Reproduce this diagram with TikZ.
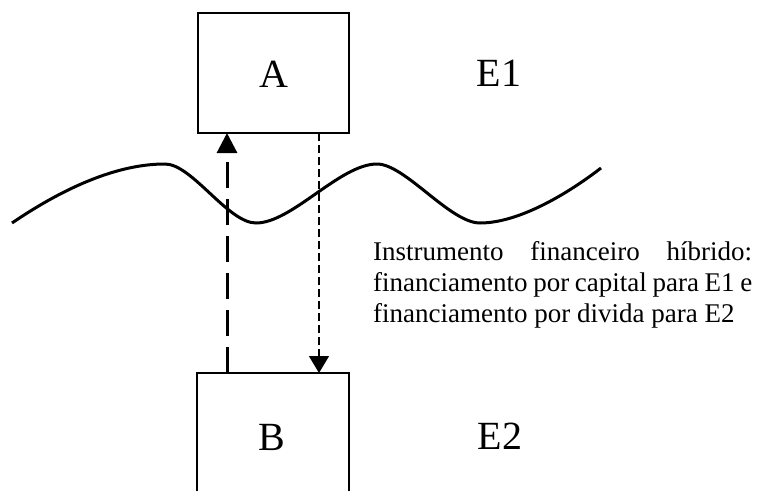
\documentclass[tikz,border=0pt]{standalone}
\usepackage{fontspec}
\setmainfont{Liberation Serif}
\usetikzlibrary{arrows.meta}
\tikzset{
  boxline/.style={line width=2.6pt},
  bigtext/.style={font=\fontsize{40}{44}\selectfont, inner sep=0pt, anchor=base},
  para/.style={font=\fontsize{27}{31}\selectfont, inner sep=0pt, anchor=base west},
  upflow/.style={line width=3pt, dash pattern=on 26pt off 11pt, -{Triangle[width=20pt,length=20pt]}},
  downflow/.style={line width=1.3pt, dash pattern=on 8pt off 4pt, -{Triangle[width=20pt,length=17pt]}},
  wave/.style={line width=3pt}
}
\begin{document}
\begin{tikzpicture}[x=1pt,y=-1pt]
\useasboundingbox (0,0) rectangle (759,490);
\fill[white] (0,0) rectangle (759,490);
% boxes
\draw[boxline] (198,13) rectangle (349,133);
\draw[boxline] (197,500) -- (197,373) -- (349,373) -- (349,500);
\coordinate (Abl) at (227,133);
\coordinate (Abr) at (319,133);
\coordinate (Btl) at (227,373);
\coordinate (Btr) at (319,373);
\node[bigtext] (A) at (274,87) {A};
\node[bigtext] (B) at (272,450) {B};
\node[bigtext] (E1) at (499,86) {E1};
\node[bigtext] (E2) at (500,449) {E2};
% wave
\draw[wave] (12,223) .. controls (90,170) and (140,164) .. (165,164)
  .. controls (192,164) and (228,223) .. (256,223)
  .. controls (292,223) and (340,164) .. (377,164)
  .. controls (405,164) and (450,223) .. (480,223)
  .. controls (520,223) and (570,192) .. (601,168);
% arrows
\draw[upflow] (Btl) -- (Abl);
\draw[downflow] (Abr) -- (Btr);
% text
\node[para] (l1) at (373,260) {\makebox[379pt][s]{Instrumento financeiro híbrido:}};
\node[para] (l2) at (373,291) {\makebox[379pt][s]{financiamento por capital para E1 e}};
\node[para] (l3) at (373,322) {financiamento por divida para E2};
\end{tikzpicture}
\end{document}
